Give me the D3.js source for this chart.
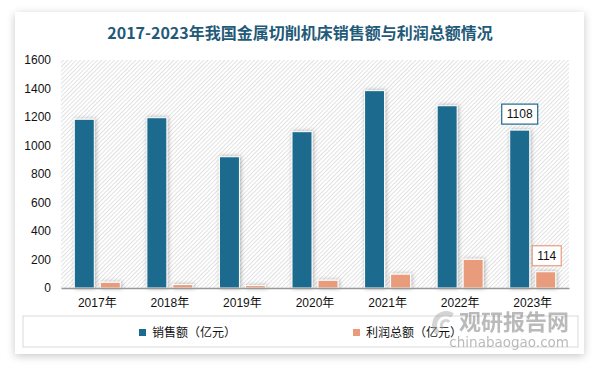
<!DOCTYPE html>
<html><head><meta charset="utf-8">
<script src="https://cdn.jsdelivr.net/npm/d3@7"></script>
<style>
html,body{margin:0;padding:0;background:#fff;}
svg{display:block;}
</style></head>
<body><svg id="c" width="600" height="368"></svg>
<script>
const title = "2017-2023年我国金属切削机床销售额与利润总额情况";
const categories = ["2017年","2018年","2019年","2020年","2021年","2022年","2023年"];
const salesValues = [1184, 1195, 921, 1097, 1385, 1279, 1108];
const profitValues = [40, 24, 17, 54, 97, 201, 114];
const seriesNames = ["销售额（亿元）", "利润总额（亿元）"];
const yTicks = [0, 200, 400, 600, 800, 1000, 1200, 1400, 1600];
const labeledIndex = [6];

const colSales = "#1c6a8e", colProfit = "#e89c7c";
const svg = d3.select("#c");
const defs = svg.append("defs");

const cardShadow = defs.append("filter").attr("id","cardShadow").attr("x","-10%").attr("y","-10%").attr("width","120%").attr("height","125%");
cardShadow.append("feDropShadow").attr("dx",0).attr("dy",2).attr("stdDeviation",4).attr("flood-color","#000").attr("flood-opacity",0.22);

const barShadow = defs.append("filter").attr("id","barShadow").attr("x","-50%").attr("y","-20%").attr("width","200%").attr("height","140%");
barShadow.append("feDropShadow").attr("dx",1).attr("dy",0).attr("stdDeviation",2).attr("flood-color","#000").attr("flood-opacity",0.3);

const pat = defs.append("pattern").attr("id","hatch").attr("patternUnits","userSpaceOnUse")
  .attr("width",3).attr("height",3).attr("patternTransform","rotate(45)");
pat.append("rect").attr("width",3).attr("height",3).attr("fill","#fff");
pat.append("line").attr("x1",0).attr("y1",0).attr("x2",0).attr("y2",3).attr("stroke","#cfcfcf").attr("stroke-width",1.2);

// card
svg.append("rect").attr("x",15).attr("y",12).attr("width",569).attr("height",342)
  .attr("fill","#fff").attr("filter","url(#cardShadow)");

svg.append("text").attr("x",300).attr("y",39).attr("text-anchor","middle")
  .attr("font-family","'Noto Sans CJK SC', sans-serif").attr("font-weight","bold")
  .attr("font-size",16).attr("fill","#1f5a78").text(title);

const pLeft = 61, pRight = 569, pTop = 60, pBottom = 288;
const x = d3.scaleBand().domain(categories).range([pLeft, pRight]).padding(0);
const y = d3.scaleLinear().domain([0, 1600]).range([pBottom, pTop]);

svg.append("rect").attr("x",pLeft).attr("y",pTop).attr("width",pRight-pLeft).attr("height",pBottom-pTop).attr("fill","url(#hatch)");

// y axis labels
const yAxis = d3.axisLeft(y).tickValues(yTicks).tickFormat(d3.format("d")).tickSize(0).tickPadding(0);
const yg = svg.append("g").attr("transform",`translate(${pLeft-10},0)`).call(yAxis);
yg.select(".domain").remove();
yg.selectAll("text").attr("font-family","'Liberation Sans', Arial, sans-serif").attr("font-size",12).attr("fill","#111");

const bw = 20;
const gapHalf = 3;
const gSales = svg.append("g").attr("filter","url(#barShadow)");
gSales.selectAll("rect").data(salesValues).join("rect")
  .attr("x",(d,i)=>x(categories[i]) + x.bandwidth()/2 - gapHalf - bw)
  .attr("y",d=>y(d)).attr("width",bw).attr("height",d=>pBottom - y(d))
  .attr("fill",colSales).attr("stroke","#fff").attr("stroke-width",1);
const gProfit = svg.append("g").attr("filter","url(#barShadow)");
gProfit.selectAll("rect").data(profitValues).join("rect")
  .attr("x",(d,i)=>x(categories[i]) + x.bandwidth()/2 + gapHalf)
  .attr("y",d=>y(d)).attr("width",bw).attr("height",d=>pBottom - y(d))
  .attr("fill",colProfit).attr("stroke","#fff").attr("stroke-width",1);

// x axis
const xAxis = d3.axisBottom(x).tickSize(0).tickPadding(10);
const xg = svg.append("g").attr("transform",`translate(0,${pBottom})`).call(xAxis);
xg.select(".domain").attr("stroke","#999").attr("stroke-width",1.5);
xg.selectAll("text").attr("font-family","'Liberation Sans', 'Noto Sans CJK SC', sans-serif").attr("font-size",12).attr("fill","#111");

// data labels
labeledIndex.forEach(i=>{
  const cx = x(categories[i]) + x.bandwidth()/2;
  const sx = cx - gapHalf - bw/2;
  const px = cx + gapHalf + bw/2;
  const lab = (val, xc, yTop, col) => {
    const w = String(val).length*7+8, h = 20;
    svg.append("rect").attr("x",xc - w/2).attr("y",yTop - h - 6).attr("width",w).attr("height",h)
      .attr("fill","#fff").attr("stroke",col).attr("stroke-width",1.2);
    svg.append("text").attr("x",xc).attr("y",yTop - 6 - 6).attr("text-anchor","middle")
      .attr("font-family","'Liberation Sans', Arial, sans-serif").attr("font-size",12).attr("fill","#111").text(val);
  };
  lab(salesValues[i], sx, y(salesValues[i]), colSales);
  lab(profitValues[i], px + 1, y(profitValues[i]), colProfit);
});

// legend
svg.append("rect").attr("x",23).attr("y",316).attr("width",555).attr("height",31)
  .attr("fill","none").attr("stroke","#d9d9d9").attr("stroke-width",1);

const legItems = [{n:seriesNames[0], c:colSales, x:139},{n:seriesNames[1], c:colProfit, x:353}];
const lg = svg.append("g");
legItems.forEach(it=>{
  lg.append("rect").attr("x",it.x).attr("y",329).attr("width",7).attr("height",7).attr("fill",it.c);
  lg.append("text").attr("x",it.x+13).attr("y",337).attr("font-family","'Noto Sans CJK SC', sans-serif")
    .attr("font-size",12).attr("fill","#111").text(it.n);
});

// watermark
const wm = svg.append("g").attr("opacity",0.5);
wm.append("path").attr("d", d3.arc()({innerRadius:9, outerRadius:14, startAngle:-2.4, endAngle:0.6}))
  .attr("transform","translate(446,325)").attr("fill","#aaa");
wm.append("path").attr("d", d3.arc()({innerRadius:3, outerRadius:6, startAngle:-2.4, endAngle:0.8}))
  .attr("transform","translate(446,325)").attr("fill","#aaa");
wm.append("text").attr("x",569).attr("y",330).attr("text-anchor","end")
  .attr("font-family","'Noto Sans CJK SC', sans-serif").attr("font-weight","bold").attr("font-size",22)
  .attr("fill","#777").text("观研报告网");
wm.append("text").attr("x",569).attr("y",347).attr("text-anchor","end")
  .attr("font-family","'DejaVu Sans', sans-serif").attr("font-size",13.5)
  .attr("fill","#777").text("chinabaogao.com");
</script></body></html>
